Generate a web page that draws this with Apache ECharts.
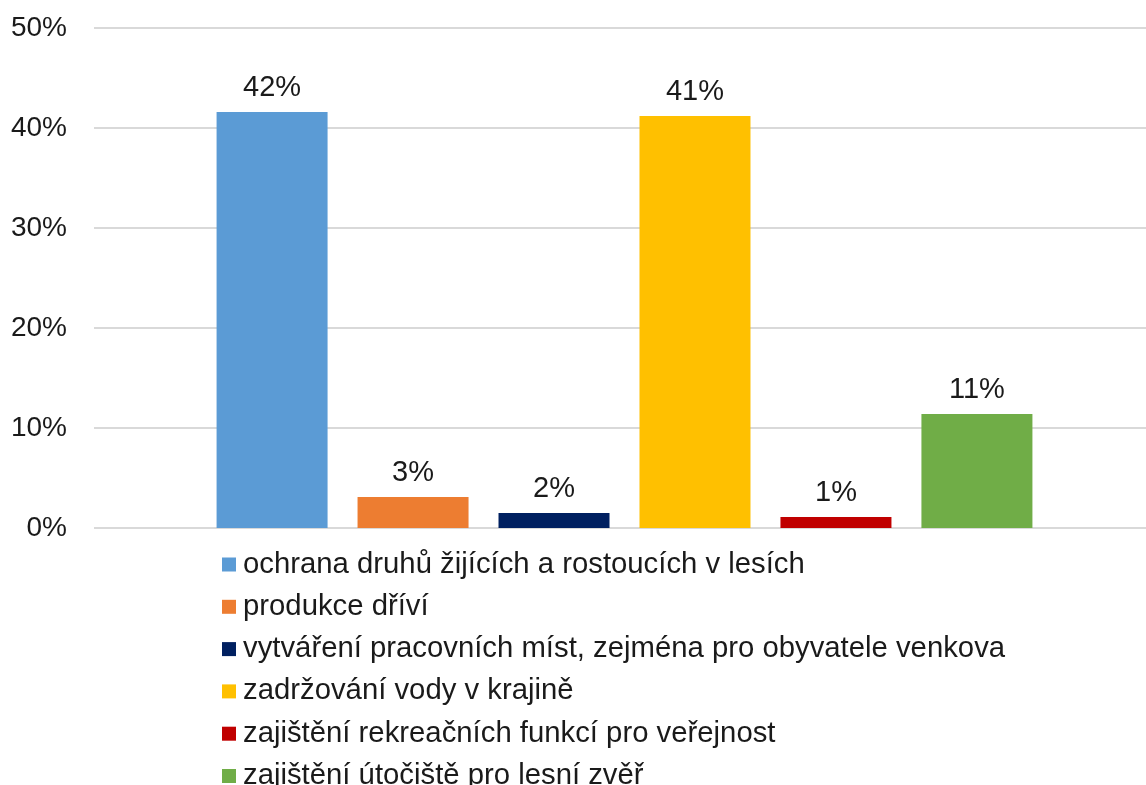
<!DOCTYPE html>
<html><head><meta charset="utf-8">
<script src="https://cdn.jsdelivr.net/npm/echarts@6/dist/echarts.min.js"></script>
<style>html,body{margin:0;padding:0;background:#fff}#c{width:1146px;height:785px}</style>
</head><body><div id="c"></div>
<script>
const seriesNames = [
  "ochrana druhů žijících a rostoucích v lesích",
  "produkce dříví",
  "vytváření pracovních míst, zejména pro obyvatele venkova",
  "zadržování vody v krajině",
  "zajištění rekreačních funkcí pro veřejnost",
  "zajištění útočiště pro lesní zvěř"
];
const values = [41.6, 3.1, 1.5, 41.2, 1.1, 11.4];
const colors = ["#5b9bd5", "#ed7d31", "#002060", "#ffc000", "#c00000", "#70ad47"];
const category = ["Celkem"];

const font = "Liberation Sans, Arial, sans-serif";
const chart = echarts.init(document.getElementById('c'));
chart.setOption({
  animation: false,
  grid: {left: 94, width: 1061, top: 28, height: 500, containLabel: false, outerBoundsMode: 'none'},
  xAxis: {type: 'category', data: category, axisLine: {show: false}, axisTick: {show: false}, axisLabel: {show: false}},
  yAxis: {type: 'value', min: 0, max: 50, interval: 10,
    axisLabel: {formatter: '{value}%', fontFamily: font, fontSize: 28, color: '#1a1a1a', margin: 27},
    splitLine: {lineStyle: {color: '#d9d9d9', width: 2}}, axisLine: {show: false}, axisTick: {show: false}},
  legend: {orient: 'vertical', left: 222, top: 550, height: 400, padding: 0, itemWidth: 14, itemHeight: 14, itemGap: 13.3,
    icon: 'rect', textStyle: {fontFamily: font, fontSize: 29.3, color: '#1a1a1a', padding: [0,0,0,2]},
    data: seriesNames},
  series: seriesNames.map((n, i) => ({
    name: n, type: 'bar', data: [values[i]], barWidth: 111, barGap: '27%',
    itemStyle: {color: colors[i]},
    label: {show: true, position: 'top', distance: 10, fontFamily: font, fontSize: 29, color: '#1a1a1a',
      formatter: p => Math.round(p.value) + '%'}
  }))
});
</script></body></html>
